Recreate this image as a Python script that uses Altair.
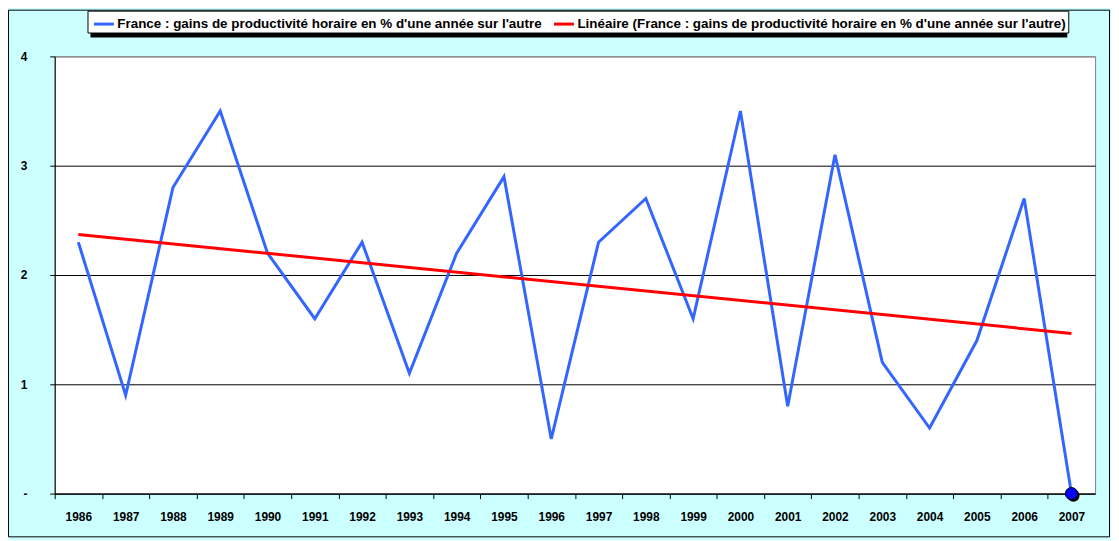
import altair as alt
import pandas as pd

years = list(range(1986, 2008))
values = [2.3, 0.9, 2.8, 3.5, 2.2, 1.6, 2.3, 1.1, 2.2, 2.9, 0.5,
          2.3, 2.7, 1.6, 3.5, 0.8, 3.1, 1.2, 0.6, 1.4, 2.7, 0.0]
series_name = "France : gains de productivité horaire en % d'une année sur l'autre"
trend_name = "Linéaire (France : gains de productivité horaire en % d'une année sur l'autre)"
y_ticks = [0, 1, 2, 3, 4]

df = pd.DataFrame({"year": years, "value": values})

W, H = 1047, 440
PAD = {"left": 47, "top": 47, "right": 16, "bottom": 45}
BAND = W / len(years)

x_enc = alt.X(
    "year:Q",
    scale=alt.Scale(domain=[years[0] - 0.5, years[-1] + 0.5], nice=False, zero=False),
    axis=alt.Axis(
        values=years,
        format="d",
        tickOffset=-BAND / 2,
        labelOffset=BAND / 2,
        labelOverlap=False,
        labelFlush=False,
        title=None,
        grid=False,
        domainColor="black",
        tickColor="black",
        tickSize=5,
        labelPadding=13,
        labelFont="Liberation Sans",
        labelFontWeight="bold",
        labelFontSize=12,
        labelColor="black",
    ),
)
y_enc = alt.Y(
    "value:Q",
    scale=alt.Scale(domain=[0, 4], nice=False),
    axis=alt.Axis(
        values=y_ticks,
        format="d",
        labelExpr="datum.value === 0 ? '-' : datum.label",
        title=None,
        grid=True,
        gridColor={"condition": {"test": "datum.value === 4", "value": "#808080"}, "value": "black"},
        gridWidth=1,
        domainColor="black",
        tickColor="black",
        tickSize=5,
        labelPadding=23,
        labelFont="Liberation Sans",
        labelFontWeight="bold",
        labelFontSize=12,
        labelColor="black",
    ),
)

color_scale = alt.Scale(domain=[series_name, trend_name], range=["#3366FF", "#FF0000"])
legend = alt.Legend(
    title=None,
    orient="none",
    legendX=33,
    legendY=-46,
    direction="horizontal",
    symbolType="stroke",
    symbolStrokeWidth=3,
    symbolSize=400,
    labelFont="Liberation Sans",
    labelFontWeight="bold",
    labelFontSize=13.5,
    labelColor="black",
    labelLimit=0,
    fillColor="white",
    strokeColor="black",
    padding=2,
    columnPadding=5,
    symbolOffset=3,
    labelOffset=2,
)

base = alt.Chart(df)

frame = alt.Chart(pd.DataFrame({"k": [0]})).mark_rect(
    filled=False, stroke="black", strokeWidth=1
).encode(
    x=alt.value(-46.5), x2=alt.value(W + PAD["right"] - 1.5),
    y=alt.value(-46.5), y2=alt.value(H + PAD["bottom"] - 1.5),
)

legend_shadow = alt.Chart(pd.DataFrame({"k": [0]})).mark_rect(
    fill="black"
).encode(
    x=alt.value(36), x2=alt.value(1019),
    y=alt.value(-43), y2=alt.value(-19),
)

line = base.transform_calculate(series=alt.expr.toString(series_name)).mark_line(strokeWidth=3).encode(
    x=x_enc, y=y_enc,
    color=alt.Color("series:N", scale=color_scale, legend=legend),
)

trend = base.transform_regression("year", "value").transform_calculate(
    series=alt.expr.toString(trend_name)
).mark_line(strokeWidth=3).encode(
    x="year:Q", y="value:Q",
    color=alt.Color("series:N", scale=color_scale, legend=legend),
)

last = base.transform_filter(f"datum.year === {years[-1]}")
pt_shadow = last.mark_point(filled=True, color="black", size=150, opacity=1, xOffset=2, yOffset=2).encode(
    x="year:Q", y="value:Q"
)
pt = last.mark_point(filled=True, fill="#0000FF", stroke="black", strokeWidth=1, size=150, opacity=1).encode(
    x="year:Q", y="value:Q"
)

chart = alt.layer(frame, legend_shadow, line, trend, pt_shadow, pt).properties(
    width=W, height=H,
    padding=PAD,
    autosize=alt.AutoSizeParams(type="none"),
    background="#CCFFFF",
).configure_view(
    fill="white", stroke="#808080", strokeWidth=1
)

chart.save("out.html", embed_options={"renderer": "svg", "actions": False})
